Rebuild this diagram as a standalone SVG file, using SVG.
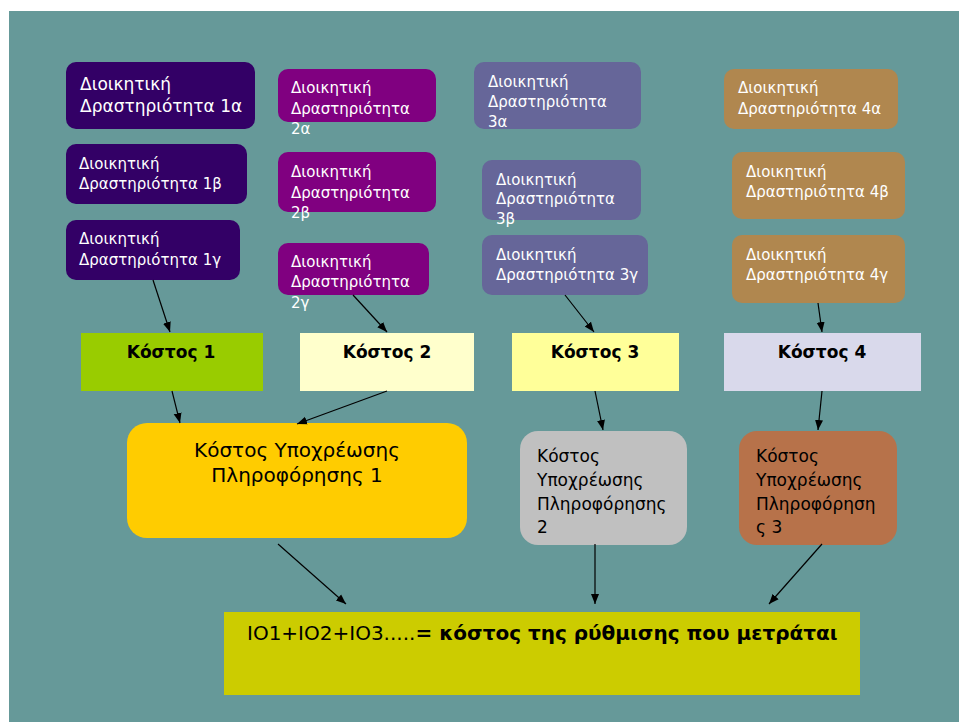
<svg xmlns="http://www.w3.org/2000/svg" width="959" height="722" viewBox="0 0 959 722">
<defs>
<marker id="ah" markerUnits="userSpaceOnUse" markerWidth="10" markerHeight="10" viewBox="0 0 10 10" refX="10" refY="5" orient="auto">
<path d="M0,1 L10,5 L0,9 Z" fill="#000"/>
</marker>
</defs>
<style>
text{font-family:"DejaVu Sans","Liberation Sans",sans-serif;}
.w{fill:#fff;font-size:15px;}
.w1{fill:#fff;font-size:17px;}
.b{fill:#000;font-size:17px;font-weight:bold;text-anchor:middle;}
.k{fill:#000;font-size:17px;}
.c line{stroke:#000;stroke-width:1.2;marker-end:url(#ah);}
</style>
<rect x="0" y="0" width="959" height="722" fill="#fff"/>
<rect x="9" y="11" width="950" height="711" fill="#669999"/>

<g id="n1a"><rect x="66" y="62" width="189" height="67" rx="10" fill="#330066"/><text class="w1" x="80" y="90">Διοικητική</text><text class="w1" x="80" y="112">Δραστηριότητα 1α</text></g>
<g id="n1b"><rect x="66" y="144" width="181" height="60" rx="10" fill="#330066"/><text class="w" x="79" y="169">Διοικητική</text><text class="w" x="79" y="189">Δραστηριότητα 1β</text></g>
<g id="n1c"><rect x="66" y="220" width="174" height="60" rx="10" fill="#330066"/><text class="w" x="79" y="244">Διοικητική</text><text class="w" x="79" y="265">Δραστηριότητα 1γ</text></g>

<g id="n2a"><rect x="278" y="69" width="158" height="53" rx="10" fill="#800080"/><text class="w" x="291" y="93">Διοικητική</text><text class="w" x="291" y="114">Δραστηριότητα</text><text class="w" x="291" y="134">2α</text></g>
<g id="n2b"><rect x="278" y="152" width="158" height="60" rx="10" fill="#800080"/><text class="w" x="291" y="177">Διοικητική</text><text class="w" x="291" y="198">Δραστηριότητα</text><text class="w" x="291" y="218">2β</text></g>
<g id="n2c"><rect x="278" y="243" width="151" height="52" rx="10" fill="#800080"/><text class="w" x="291" y="267">Διοικητική</text><text class="w" x="291" y="287">Δραστηριότητα</text><text class="w" x="291" y="308">2γ</text></g>

<g id="n3a"><rect x="474" y="62" width="167" height="67" rx="10" fill="#666699"/><text class="w" x="488" y="87">Διοικητική</text><text class="w" x="488" y="107">Δραστηριότητα</text><text class="w" x="488" y="127">3α</text></g>
<g id="n3b"><rect x="482" y="160" width="159" height="60" rx="10" fill="#666699"/><text class="w" x="496" y="185">Διοικητική</text><text class="w" x="496" y="204">Δραστηριότητα</text><text class="w" x="496" y="224">3β</text></g>
<g id="n3c"><rect x="482" y="235" width="166" height="60" rx="10" fill="#666699"/><text class="w" x="496" y="260">Διοικητική</text><text class="w" x="496" y="280">Δραστηριότητα 3γ</text></g>

<g id="n4a"><rect x="724" y="69" width="174" height="60" rx="10" fill="#B0874F"/><text class="w" x="738" y="93">Διοικητική</text><text class="w" x="738" y="114">Δραστηριότητα 4α</text></g>
<g id="n4b"><rect x="732" y="152" width="173" height="67" rx="10" fill="#B0874F"/><text class="w" x="746" y="177">Διοικητική</text><text class="w" x="746" y="197">Δραστηριότητα 4β</text></g>
<g id="n4c"><rect x="732" y="235" width="173" height="68" rx="10" fill="#B0874F"/><text class="w" x="746" y="260">Διοικητική</text><text class="w" x="746" y="280">Δραστηριότητα 4γ</text></g>

<g id="k1"><rect x="81" y="333" width="182" height="58" fill="#99CC00"/><text class="b" x="171" y="358">Κόστος 1</text></g>
<g id="k2"><rect x="300" y="333" width="174" height="58" fill="#FFFFCC"/><text class="b" x="387" y="358">Κόστος 2</text></g>
<g id="k3"><rect x="512" y="333" width="167" height="58" fill="#FFFF99"/><text class="b" x="595" y="358">Κόστος 3</text></g>
<g id="k4"><rect x="724" y="333" width="197" height="58" fill="#D9D9EB"/><text class="b" x="822" y="358">Κόστος 4</text></g>

<g id="y1"><rect x="127" y="423" width="340" height="115" rx="20" fill="#FFCC00"/><text class="k" x="297" y="457" text-anchor="middle" style="font-size:20px">Κόστος Υποχρέωσης</text><text class="k" x="297" y="482" text-anchor="middle" style="font-size:20px">Πληροφόρησης 1</text></g>
<g id="y2"><rect x="520" y="431" width="167" height="114" rx="18" fill="#C0C0C0"/><text class="k" x="537" y="462">Κόστος</text><text class="k" x="537" y="486">Υποχρέωσης</text><text class="k" x="537" y="510">Πληροφόρησης</text><text class="k" x="537" y="533">2</text></g>
<g id="y3"><rect x="739" y="431" width="158" height="114" rx="18" fill="#B7724A"/><text class="k" x="756" y="462">Κόστος</text><text class="k" x="756" y="486">Υποχρέωσης</text><text class="k" x="756" y="510">Πληροφόρηση</text><text class="k" x="756" y="533">ς 3</text></g>

<g id="total"><rect x="224" y="612" width="636" height="83" fill="#CCCC00"/><text class="k" x="247" y="640" style="font-size:20px">IO1+IO2+IO3.....<tspan font-weight="bold">= κόστος της ρύθμισης που μετράται</tspan></text></g>

<g id="connectors" class="c">
<line x1="153" y1="280" x2="170" y2="332"/>
<line x1="353" y1="295" x2="387" y2="332"/>
<line x1="565" y1="295" x2="594" y2="332"/>
<line x1="818" y1="303" x2="822" y2="332"/>
<line x1="172" y1="391" x2="180" y2="423"/>
<line x1="387" y1="391" x2="297" y2="424"/>
<line x1="595" y1="391" x2="603" y2="430"/>
<line x1="822" y1="391" x2="818" y2="430"/>
<line x1="278" y1="544" x2="346" y2="604"/>
<line x1="595" y1="544" x2="595" y2="604"/>
<line x1="822" y1="544" x2="769" y2="604"/>
</g>
</svg>
